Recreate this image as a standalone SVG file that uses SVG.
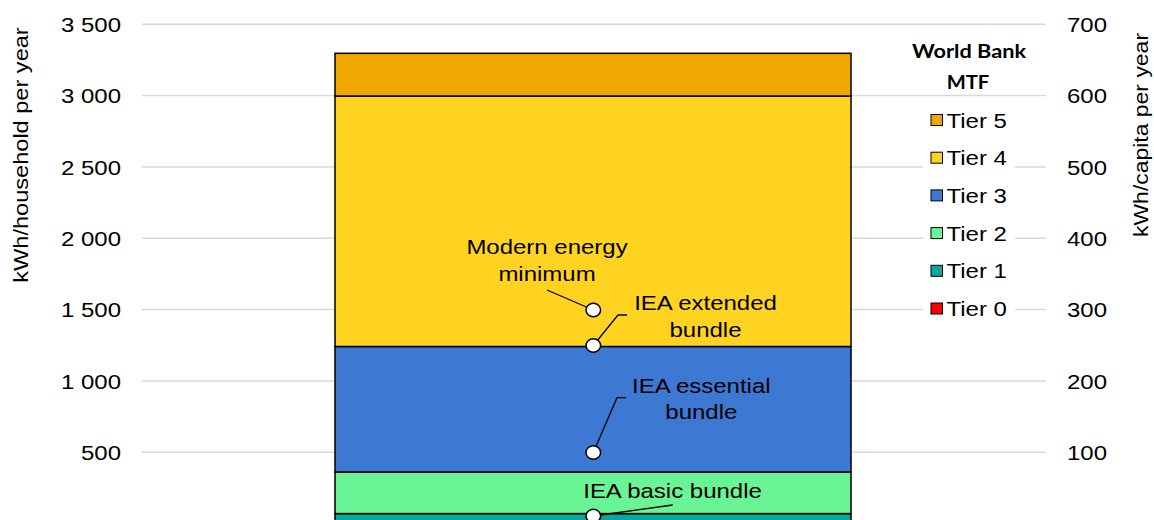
<svg xmlns="http://www.w3.org/2000/svg" width="1154" height="520" viewBox="0 0 1154 520">
<style>
.t{font-family:"Liberation Sans",Arial,sans-serif;font-size:20.5px;fill:#000}
.e{text-anchor:end}
.m{text-anchor:middle}
.grid{stroke:#D9D9D9;stroke-width:1.5;fill:none}
.seg{stroke:#000;stroke-width:1.5}
.lead{stroke:#000;stroke-width:1.3;fill:none}
.dot{fill:#fff;stroke:#000;stroke-width:1.5}
.sw{stroke:#000;stroke-width:1}
.ttl{font-family:Lato,"Liberation Sans",sans-serif;font-weight:bold;font-size:19.5px;text-anchor:middle;fill:#000}
</style>
<rect width="1154" height="520" fill="#fff"/>
<g id="gridlines">
<line class="grid" x1="142" y1="24.3" x2="1046" y2="24.3"/>
<line class="grid" x1="142" y1="95.6" x2="1046" y2="95.6"/>
<line class="grid" x1="142" y1="167" x2="1046" y2="167"/>
<line class="grid" x1="142" y1="238.3" x2="1046" y2="238.3"/>
<line class="grid" x1="142" y1="309.6" x2="1046" y2="309.6"/>
<line class="grid" x1="142" y1="381" x2="1046" y2="381"/>
<line class="grid" x1="142" y1="452.3" x2="1046" y2="452.3"/>
</g>
<g id="left-axis">
<text class="t e" transform="translate(121,32) scale(1.17,1)">3 500</text>
<text class="t e" transform="translate(121,103.3) scale(1.17,1)">3 000</text>
<text class="t e" transform="translate(121,174.7) scale(1.17,1)">2 500</text>
<text class="t e" transform="translate(121,246) scale(1.17,1)">2 000</text>
<text class="t e" transform="translate(121,317.3) scale(1.17,1)">1 500</text>
<text class="t e" transform="translate(121,388.7) scale(1.17,1)">1 000</text>
<text class="t e" transform="translate(121,460) scale(1.17,1)">500</text>
<text class="t m" transform="translate(28,155) rotate(-90) scale(1.15,1)">kWh/household per year</text>
</g>
<g id="right-axis">
<text class="t" transform="translate(1067,32) scale(1.17,1)">700</text>
<text class="t" transform="translate(1067,103.3) scale(1.17,1)">600</text>
<text class="t" transform="translate(1067,174.7) scale(1.17,1)">500</text>
<text class="t" transform="translate(1067,246) scale(1.17,1)">400</text>
<text class="t" transform="translate(1067,317.3) scale(1.17,1)">300</text>
<text class="t" transform="translate(1067,388.7) scale(1.17,1)">200</text>
<text class="t" transform="translate(1067,460) scale(1.17,1)">100</text>
<text class="t m" transform="translate(1148,135) rotate(-90) scale(1.12,1)">kWh/capita per year</text>
</g>
<g id="tier1"><rect class="seg" x="335" y="513.6" width="516" height="20" fill="#0AA89B"/></g>
<g id="tier2"><rect class="seg" x="335" y="472" width="516" height="41.6" fill="#69F495"/></g>
<g id="tier3"><rect class="seg" x="335" y="346.5" width="516" height="125.5" fill="#3D78D2"/></g>
<g id="tier4"><rect class="seg" x="335" y="96" width="516" height="250.5" fill="#FFD320"/></g>
<g id="tier5"><rect class="seg" x="335" y="53.3" width="516" height="42.7" fill="#F0A800"/></g>
<g id="connectors">
<line class="lead" x1="547" y1="290" x2="593.3" y2="310"/>
<polyline class="lead" points="593.3,345.5 618,315 627,315"/>
<polyline class="lead" points="593.3,452.5 617,397.7 626,397.7"/>
<line class="lead" x1="593.3" y1="516" x2="672.7" y2="505"/>
</g>
<g id="modern-energy-minimum">
<ellipse class="dot" cx="593.3" cy="310" rx="7.3" ry="6.8"/>
<text class="t m" transform="translate(547,254.3) scale(1.17,1)">Modern energy</text>
<text class="t m" transform="translate(547,281) scale(1.17,1)">minimum</text>
</g>
<g id="iea-extended">
<ellipse class="dot" cx="593.3" cy="345.5" rx="7.3" ry="6.8"/>
<text class="t m" transform="translate(705.5,310) scale(1.17,1)">IEA extended</text>
<text class="t m" transform="translate(705.5,336.5) scale(1.17,1)">bundle</text>
</g>
<g id="iea-essential">
<ellipse class="dot" cx="593.3" cy="452.5" rx="7.3" ry="6.8"/>
<text class="t m" transform="translate(701.3,392.7) scale(1.17,1)">IEA essential</text>
<text class="t m" transform="translate(701.3,419.3) scale(1.17,1)">bundle</text>
</g>
<g id="iea-basic">
<ellipse class="dot" cx="593.3" cy="516" rx="7.3" ry="6.8"/>
<text class="t m" transform="translate(672.5,497.7) scale(1.17,1)">IEA basic bundle</text>
</g>
<g id="legend">
<rect x="923" y="101" width="92" height="224" fill="#fff"/>
<text class="ttl" x="969" y="58.3" textLength="114" lengthAdjust="spacingAndGlyphs">World Bank</text>
<text class="ttl" x="968" y="89.3" textLength="42.6" lengthAdjust="spacingAndGlyphs">MTF</text>
<rect class="sw" x="931" y="114.5" width="11.5" height="11" fill="#F0A800"/>
<text class="t" transform="translate(946.5,127.5) scale(1.17,1)">Tier 5</text>
<rect class="sw" x="931" y="152.2" width="11.5" height="11" fill="#FFD320"/>
<text class="t" transform="translate(946.5,165.2) scale(1.17,1)">Tier 4</text>
<rect class="sw" x="931" y="189.9" width="11.5" height="11" fill="#3D78D2"/>
<text class="t" transform="translate(946.5,202.9) scale(1.17,1)">Tier 3</text>
<rect class="sw" x="931" y="227.6" width="11.5" height="11" fill="#69F495"/>
<text class="t" transform="translate(946.5,240.6) scale(1.17,1)">Tier 2</text>
<rect class="sw" x="931" y="265.3" width="11.5" height="11" fill="#0AA89B"/>
<text class="t" transform="translate(946.5,278.3) scale(1.17,1)">Tier 1</text>
<rect class="sw" x="931" y="303" width="11.5" height="11" fill="#FF0000"/>
<text class="t" transform="translate(946.5,316) scale(1.17,1)">Tier 0</text>
</g>
</svg>
